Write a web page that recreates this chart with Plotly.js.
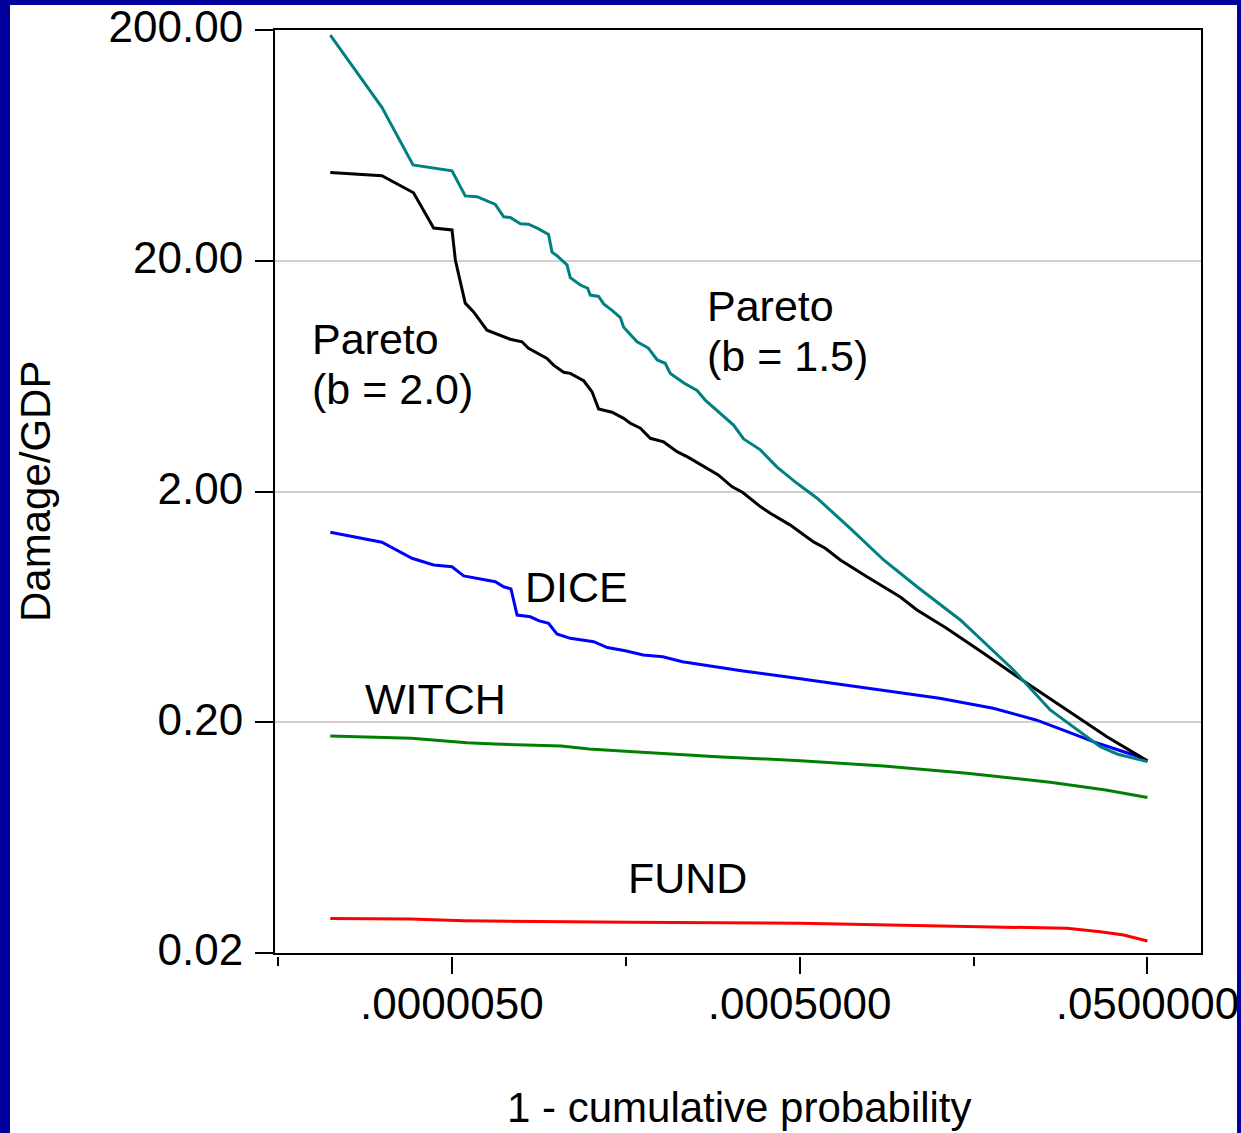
<!DOCTYPE html>
<html>
<head>
<meta charset="utf-8">
<script src="https://cdn.plot.ly/plotly-3.0.1.min.js"></script>
<style>
  html, body { margin: 0; padding: 0; background: #ffffff; }
  #wrap { position: relative; width: 1241px; height: 1133px; overflow: hidden; }
  #chart { position: absolute; left: 0; top: 0; width: 1241px; height: 1133px; }
  #frame {
    position: absolute; left: 0; top: 0; width: 1241px; height: 1133px;
    box-sizing: border-box; border-style: solid; border-color: #00009c;
    border-width: 5px 4px 0 10px; pointer-events: none;
  }
</style>
</head>
<body>
<div id="wrap"><div id="chart"></div><div id="frame"></div></div>
<script>
// Tail probability (1 - cumulative probability) and damage as a share of GDP

// Pareto, b = 1.5
const paretoB15Prob = [1.0e-6, 1.98e-6, 2.99e-6, 5.01e-6, 5.97e-6, 6.98e-6, 8.89e-6, 9.93e-6,
  1.084e-5, 1.239e-5, 1.38e-5, 1.578e-5, 1.799e-5, 1.884e-5, 2.018e-5, 2.198e-5, 2.296e-5,
  2.399e-5, 2.742e-5, 3.02e-5, 3.126e-5, 3.491e-5, 3.733e-5, 4.169e-5, 4.656e-5, 4.864e-5,
  5.808e-5, 6.745e-5, 7.586e-5, 8.43e-5, 9.02e-5, 1.086e-4, 1.285e-4, 1.432e-4, 1.786e-4,
  2.084e-4, 2.382e-4, 2.972e-4, 3.707e-4, 4.83e-4, 6.30e-4, 9.77e-4, 1.521e-3, 2.366e-3,
  4.20e-3, 8.49e-3, 1.38e-2, 2.148e-2, 2.679e-2, 3.342e-2, 4.16e-2, 5.0e-2];
const paretoB15Damage = [190.2, 92.5, 52.0, 49.1, 38.2, 37.9, 35.1, 31.0, 30.8, 28.9, 28.8,
  27.5, 26.0, 21.8, 21.0, 19.8, 19.2, 16.9, 15.7, 15.2, 14.2, 14.0, 13.0, 12.2, 11.35, 10.3,
  8.91, 8.37, 7.43, 7.19, 6.50, 5.89, 5.48, 4.98, 4.29, 3.88, 3.38, 3.03, 2.55, 2.17, 1.87,
  1.385, 1.01, 0.773, 0.555, 0.337, 0.226, 0.176, 0.1567, 0.1457, 0.1396, 0.135];

// Pareto, b = 2.0
const paretoB20Prob = [1.0e-6, 1.98e-6, 3.01e-6, 3.93e-6, 5.01e-6, 5.24e-6, 5.97e-6, 6.67e-6,
  7.96e-6, 9.10e-6, 1.084e-5, 1.265e-5, 1.38e-5, 1.762e-5, 1.923e-5, 2.198e-5, 2.399e-5,
  2.864e-5, 3.199e-5, 3.491e-5, 4.169e-5, 4.864e-5, 5.31e-5, 6.07e-5, 6.92e-5, 8.26e-5,
  9.86e-5, 1.146e-4, 1.387e-4, 1.702e-4, 2.037e-4, 2.355e-4, 2.972e-4, 3.39e-4, 4.42e-4,
  6.01e-4, 7.02e-4, 8.57e-4, 1.219e-3, 1.897e-3, 2.366e-3, 3.48e-3, 5.71e-3, 1.014e-2,
  1.722e-2, 2.924e-2, 5.0e-2];
const paretoB20Damage = [48.3, 46.7, 39.4, 27.7, 27.2, 20.1, 13.1, 12.0, 10.0, 9.63, 9.14,
  8.91, 8.35, 7.55, 7.06, 6.57, 6.50, 6.04, 5.41, 4.56, 4.41, 4.15, 3.95, 3.76, 3.40, 3.28,
  2.975, 2.81, 2.58, 2.36, 2.10, 1.98, 1.72, 1.61, 1.43, 1.21, 1.135, 1.01, 0.855, 0.698,
  0.613, 0.512, 0.398, 0.295, 0.226, 0.173, 0.136];

// DICE
const diceProb = [1.0e-6, 1.98e-6, 2.95e-6, 3.93e-6, 5.01e-6, 5.85e-6, 8.89e-6, 9.93e-6,
  1.094e-5, 1.186e-5, 1.413e-5, 1.578e-5, 1.799e-5, 2.01e-5, 2.399e-5, 3.27e-5, 3.92e-5,
  4.97e-5, 6.30e-5, 8.17e-5, 1.059e-4, 1.622e-4, 2.366e-4, 4.17e-4, 7.71e-4, 1.570e-3,
  3.19e-3, 6.49e-3, 1.143e-2, 1.671e-2, 2.44e-2, 3.40e-2, 4.26e-2, 5.0e-2];
const diceDamage = [1.331, 1.205, 1.027, 0.960, 0.944, 0.861, 0.813, 0.773, 0.756, 0.583,
  0.573, 0.551, 0.537, 0.4825, 0.462, 0.447, 0.4215, 0.4085, 0.391, 0.3847, 0.366, 0.348,
  0.3335, 0.315, 0.295, 0.274, 0.254, 0.230, 0.2046, 0.1838, 0.1647, 0.1516, 0.1435, 0.1355];

// WITCH
const witchProb = [1.0e-6, 2.92e-6, 6.11e-6, 8.81e-6, 2.13e-5, 3.08e-5, 5.55e-5, 1.675e-4,
  5.05e-4, 1.521e-3, 4.58e-3, 1.38e-2, 2.88e-2, 5.0e-2];
const witchDamage = [0.1743, 0.1703, 0.1631, 0.161, 0.1578, 0.1531, 0.1491, 0.1418, 0.1363,
  0.1292, 0.1202, 0.1099, 0.1017, 0.0944];

// FUND
const fundProb = [1.0e-6, 2.88e-6, 5.85e-6, 2.198e-5, 5.31e-5, 5.05e-4, 1.897e-3, 7.13e-3,
  1.722e-2, 2.679e-2, 3.65e-2, 5.0e-2];
const fundDamage = [0.0282, 0.02807, 0.0276, 0.02733, 0.02717, 0.0269, 0.02644, 0.026,
  0.02559, 0.02473, 0.02393, 0.02254];

// Axis ticks
const xTickVals = [5e-6, 5e-4, 5e-2];
const xTickText = ['.0000050', '.0005000', '.0500000'];
const xMinorVals = [5e-7, 5e-5, 5e-3];
const yTickVals = [0.02, 0.2, 2, 20, 200];
const yTickText = ['0.02', '0.20', '2.00', '20.00', '200.00'];

const xTitle = '1 - cumulative probability';
const yTitle = 'Damage/GDP';

const FONT = '"Liberation Sans", Arial, Helvetica, sans-serif';
const X_RANGE = [-6.318, -0.993];
const Y_RANGE = [Math.log10(0.02), Math.log10(200)];

// plot area: left 275, top 30, bottom of frame 953 (page px)
const PL = 275, PT = 30;

function series(x, y, color) {
  return { type: 'scatter', mode: 'lines', x: x, y: y, xaxis: 'x', yaxis: 'y',
           line: { color: color, width: 3 }, hoverinfo: 'x+y', showlegend: false };
}

const traces = [
  series(fundProb, fundDamage, '#ff0000'),
  series(witchProb, witchDamage, '#008000'),
  series(diceProb, diceDamage, '#0000ff'),
  series(paretoB20Prob, paretoB20Damage, '#000000'),
  series(paretoB15Prob, paretoB15Damage, '#008080'),
  // registers the tick-only bottom axis
  { type: 'scatter', mode: 'lines', x: [], y: [], xaxis: 'x2', yaxis: 'y',
    showlegend: false, hoverinfo: 'skip' }
];

function label(text, X, Y, extra) {
  return Object.assign({
    xref: 'paper', yref: 'paper', x: 0, y: 1,
    xshift: X - PL, yshift: -(Y - PT),
    xanchor: 'left', yanchor: 'middle', showarrow: false,
    text: text, font: { family: FONT, size: 43, color: '#000' }
  }, extra || {});
}

const annotations = [
  label('Pareto', 310, 339),
  label('(b = 2.0)', 310, 389),
  label('Pareto', 705, 306),
  label('(b = 1.5)', 705, 356),
  label('DICE', 523, 587),
  label('WITCH', 363, 699),
  label('FUND', 626, 878),
  label(xTitle, 739, 1107, { xanchor: 'center', font: { family: FONT, size: 42, color: '#000' } }),
  label(yTitle, 35, 492, { xanchor: 'center', textangle: -90, font: { family: FONT, size: 42, color: '#000' } })
];

const layout = {
  width: 1241, height: 1133,
  margin: { l: 275, r: 40, t: 30, b: 170, pad: 0 },
  paper_bgcolor: '#ffffff', plot_bgcolor: '#ffffff',
  showlegend: false,
  font: { family: FONT, size: 44, color: '#000' },
  xaxis: {
    type: 'log', range: X_RANGE, showline: true, linecolor: '#000', linewidth: 2,
    mirror: true, ticks: '', showticklabels: false, showgrid: false, zeroline: false
  },
  xaxis2: {
    type: 'log', range: X_RANGE, overlaying: 'x', anchor: 'free', position: 0.0075,
    side: 'bottom', showline: false, showgrid: false, zeroline: false,
    ticks: 'outside', ticklen: 17, tickwidth: 2, tickcolor: '#000',
    tickmode: 'array', tickvals: xTickVals, ticktext: xTickText,
    tickfont: { family: FONT, size: 44, color: '#000' },
    ticklabelstandoff: -8,
    minor: { tickmode: 'array', tickvals: xMinorVals, ticks: 'outside', ticklen: 9,
             tickwidth: 2, tickcolor: '#000', showgrid: false }
  },
  yaxis: {
    type: 'log', range: Y_RANGE, domain: [0.010718, 1],
    showline: true, linecolor: '#000', linewidth: 2, mirror: true,
    ticks: 'outside', ticklen: 18, tickwidth: 2, tickcolor: '#000',
    tickmode: 'array', tickvals: yTickVals, ticktext: yTickText,
    tickfont: { family: FONT, size: 44, color: '#000' },
    ticklabelstandoff: 3, ticklabelshift: -3,
    showgrid: true, gridcolor: '#d0d0d0', gridwidth: 2, zeroline: false
  },
  annotations: annotations
};

Plotly.newPlot('chart', traces, layout, { displayModeBar: false, staticPlot: true });
</script>
</body>
</html>
